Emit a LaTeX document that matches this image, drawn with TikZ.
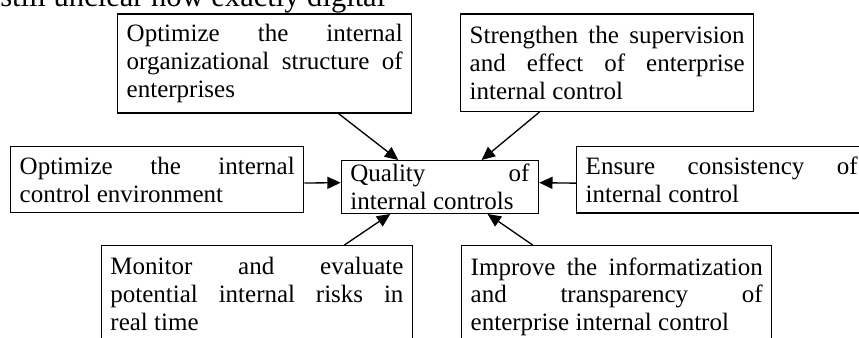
\documentclass[tikz,border=0pt]{standalone}
\usepackage{fontspec}
\setmainfont{Liberation Serif}
\usetikzlibrary{arrows.meta,calc}
\tolerance=10000
\hbadness=10000

\begin{document}
\begin{tikzpicture}[x=0.75pt,y=-0.75pt,
  box/.style={draw,line width=1.1pt,anchor=north west,align=justify,
    inner xsep=6.75pt,inner ysep=7.7pt,
    font=\fontsize{18.75pt}{20.8pt}\selectfont},
  arr/.style={line width=1pt,-{Triangle[length=10pt,width=9pt]}}]
  \useasboundingbox (0,0) rectangle (859,338);
  %\draw[help lines,step=50] (0,0) grid (859,338);
  \node[anchor=base west,inner sep=0pt,font=\fontsize{22.9pt}{27pt}\selectfont] (prevline) at (0,7) {still unclear how exactly digital};

  \node[box,text width=207pt] (structure) at (117,13.5) {Optimize the internal\linebreak organizational structure of\linebreak enterprises};
  \node[box,text width=206.25pt,inner ysep=9pt] (supervision) at (460,13.5) {Strengthen the supervision\linebreak and effect of enterprise\linebreak internal control};
  \node[box,text width=206.25pt] (environment) at (10,146) {Optimize the internal\linebreak control environment};
  \node[box,text width=134.25pt,inner ysep=2.6pt] (quality) at (340.7,160) {Quality of\linebreak internal controls};
  \node[box,text width=204pt] (consistency) at (576,146) {Ensure consistency of\linebreak internal control};
  \node[box,text width=219.75pt,inner ysep=8.9pt] (risks) at (100.7,245) {Monitor and evaluate\linebreak potential internal risks in\linebreak real time};
  \node[box,text width=219pt,inner ysep=8.9pt] (transparency) at (461,245) {Improve the informatization\linebreak and transparency of\linebreak enterprise internal control};

  \draw[arr] ($(structure.south west)!.75!(structure.south east)$) -- ($(quality.north west)!.29!(quality.north east)$);
  \draw[arr] ($(supervision.south west)!.27!(supervision.south east)$) -- ($(quality.north west)!.71!(quality.north east)$);
  \draw[arr] ($(environment.north east)!.55!(environment.south east)$) -- ($(quality.north west)!.42!(quality.south west)$);
  \draw[arr] ($(consistency.north west)!.55!(consistency.south west)$) -- ($(quality.north east)!.42!(quality.south east)$);
  \draw[arr] ($(risks.north west)!.78!(risks.north east)$) -- ($(quality.south west)!.25!(quality.south east)$);
  \draw[arr] ($(transparency.north west)!.23!(transparency.north east)$) -- ($(quality.south west)!.74!(quality.south east)$);
\end{tikzpicture}
\end{document}
